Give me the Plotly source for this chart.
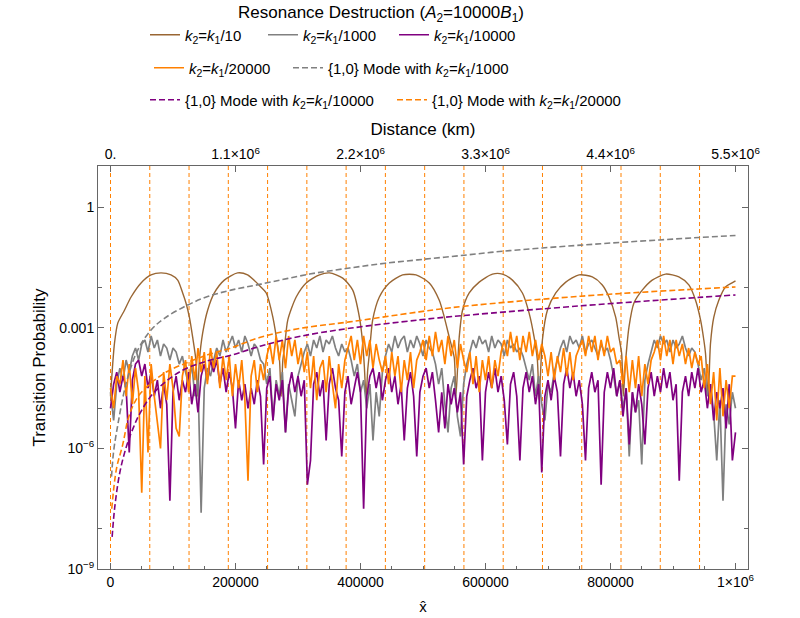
import plotly.graph_objects as go

# ---------------- data ----------------
# x-hat sampling grid for the noisy curves (step 5000)
X_GRID = list(range(0, 1000001, 5000))

# log10 of transition probability, k2 = k1/1000 (gray)
GRAY_LOG = [
    -4.6, -5.3, -4.4, -4.0, -4.3, -3.8, -4.1,
    -3.7, -3.5, -3.8, -3.4, -3.3, -3.6, -3.2, -3.5, -3.3, -3.7, -3.4, -3.5, -3.8, -3.5, -3.6, -3.9,
    -3.7, -4.1, -4.4, -3.9, -4.7, -4.3, -7.6, -4.5, -4.0, -4.2,
    -3.8, -3.5, -3.7, -3.3, -3.6, -3.4, -3.2, -3.5, -3.3, -3.6, -3.2, -3.4, -3.7, -3.4, -3.5, -3.8,
    -3.9, -4.4, -4.0, -5.3, -4.3, -4.7, -4.1, -5.6, -4.4, -4.8, -5.2, -4.2, -3.9,
    -3.6, -3.4, -3.7, -3.3, -3.5, -3.2, -3.6, -3.3, -3.4, -3.2, -3.5, -3.7, -3.4, -3.6, -3.5, -3.8,
    -4.2, -3.9, -4.6, -4.3, -5.0, -4.4, -5.8, -4.6, -5.2, -4.1,
    -3.7, -3.4, -3.6, -3.2, -3.5, -3.3, -3.2, -3.6, -3.3, -3.5, -3.2, -3.4, -3.7, -3.3, -3.5, -3.6,
    -3.9, -4.4, -4.0, -4.9, -5.6, -4.5, -4.2, -5.2, -5.7, -4.4, -3.9,
    -3.6, -3.3, -3.5, -3.2, -3.4, -3.3, -3.6, -3.2, -3.5, -3.3, -3.4, -3.7, -3.3, -3.5, -3.4, -3.6, -3.5, -3.7,
    -4.0, -4.3, -3.9, -4.7, -4.2, -4.9, -5.3, -4.4, -4.6, -4.1, -3.8,
    -3.5, -3.3, -3.6, -3.2, -3.4, -3.3, -3.5, -3.2, -3.6, -3.4, -3.3, -3.5, -3.7, -3.4, -3.6, -3.5,
    -3.8, -4.2, -4.7, -4.3, -5.0, -4.5, -6.2, -4.6, -5.1, -4.8, -6.4, -4.3,
    -3.9, -3.6, -3.3, -3.5, -3.2, -3.4, -3.3, -3.6, -3.3, -3.5, -3.4, -3.2, -3.5, -3.7, -3.5, -3.6,
    -3.9, -4.3, -4.0, -4.7, -4.4, -5.1, -6.3, -4.8, -7.3, -4.9, -5.4, -4.6, -5.0,
]

# log10 of transition probability, k2 = k1/10000 (purple)
PURPLE_LOG = [
    -5.0, -4.4, -4.1, -4.6, -4.2, -4.5, -6.1, -4.3, -3.9, -3.8,
    -4.2, -3.9, -4.5, -4.1, -4.7, -4.3, -5.0, -4.4, -4.9, -7.3,
    -4.6, -4.2, -4.8, -4.3, -4.6, -4.1, -4.9, -4.4, -5.1, -4.2,
    -3.9, -4.3, -3.8, -4.1, -3.8, -4.4, -4.0, -4.6, -4.1, -4.5,
    -5.5, -4.3, -4.8, -4.4, -5.0, -4.5, -4.9, -4.3, -4.7, -6.4,
    -4.5, -4.2, -5.3, -4.4, -4.8, -4.3, -5.6, -4.5, -4.1, -4.6,
    -4.2, -4.7, -4.3, -6.9, -6.3, -4.4, -4.1, -4.7, -4.3, -5.8,
    -4.4, -4.0, -4.5, -4.8, -6.2, -4.6, -4.2, -4.9, -4.5, -4.1,
    -4.6, -7.5, -4.7, -4.2, -4.0, -4.5, -4.1, -4.8, -4.3, -4.0,
    -4.6, -4.2, -4.9, -4.4, -5.8, -4.5, -4.1, -4.7, -6.2, -4.6,
    -4.2, -4.0, -4.5, -4.1, -4.8, -5.6, -4.6, -5.5, -4.4, -4.9,
    -4.5, -5.1, -4.6, -6.4, -4.7, -4.3, -4.0, -4.5, -4.2, -6.3,
    -4.6, -4.1, -4.5, -4.0, -4.6, -4.2, -4.8, -5.9, -4.4, -4.1,
    -4.7, -6.3, -4.5, -4.1, -4.6, -4.2, -4.9, -4.4, -6.6, -4.7,
    -4.3, -4.8, -4.2, -4.6, -6.2, -4.4, -4.0, -4.5, -4.1, -4.7,
    -4.3, -4.9, -6.3, -4.5, -4.1, -4.6, -4.3, -6.9, -4.6, -4.1,
    -4.5, -4.0, -4.7, -4.3, -5.2, -4.5, -5.9, -4.6, -5.1, -4.4,
    -4.9, -5.9, -4.5, -4.1, -4.7, -4.2, -4.6, -4.0, -4.5, -4.1,
    -4.8, -4.4, -6.8, -4.6, -4.2, -4.7, -4.1, -4.5, -4.0, -4.6,
    -4.3, -5.0, -4.4, -5.3, -4.6, -5.0, -4.5, -5.5, -4.4, -6.3,
    -5.6,
]

# log10 of transition probability, k2 = k1/20000 (orange)
ORANGE_LOG = [
    -4.5, -5.0, -4.2, -4.4,
    -3.8, -4.7, -3.9, -4.9, -4.0, -4.6, -7.1, -4.2, -6.1, -3.9, -4.7, -5.4, -6.0, -4.1, -4.8, -3.9, -4.5, -5.5, -5.7, -4.2, -3.8, -4.6,
    -3.7, -4.3, -3.5, -4.1, -3.6, -4.4, -3.5, -4.0, -3.6, -4.5, -3.7,
    -4.3, -3.7, -4.7, -3.9, -4.5, -3.8, -4.8, -6.8, -4.2, -3.8, -4.6, -3.9, -4.3, -3.7,
    -3.4, -3.9, -3.2, -3.8, -3.3, -4.0, -3.2, -3.7, -3.3, -3.9, -3.5,
    -4.1, -3.6, -4.5, -3.7, -4.8, -4.0, -3.8, -4.6, -3.7, -4.4, -5.0, -3.9, -4.5, -3.8,
    -3.5, -3.2, -3.8, -3.3, -3.9, -3.2, -3.7, -3.3, -4.0, -3.4, -3.8, -4.1,
    -3.7, -4.4, -3.6, -4.2, -3.7, -4.6, -3.8, -4.3, -3.6, -4.5, -3.8, -3.6,
    -3.3, -3.8, -3.2, -3.7, -3.1, -3.6, -3.3, -3.9, -3.2, -3.7, -3.3, -4.0, -3.4, -3.8,
    -4.1, -3.6, -4.4, -3.7, -4.6, -3.8, -4.3, -3.7, -4.5, -3.8, -4.2, -3.6,
    -3.3, -3.7, -3.1, -3.6, -3.2, -3.8, -3.2, -3.6, -3.1, -3.7, -3.3, -3.8, -3.4,
    -3.7, -4.2, -3.6, -4.3, -3.7, -4.1, -3.5, -4.2, -3.6, -4.3, -3.7, -3.5,
    -3.3, -3.7, -3.2, -3.6, -3.2, -3.8, -3.3, -3.7, -3.2, -3.6, -3.5, -3.9,
    -3.8, -4.4, -3.7, -4.6, -3.8, -4.5, -3.7, -4.7, -3.9, -4.4, -3.8, -3.6,
    -3.3, -3.8, -3.2, -3.7, -3.3, -3.9, -3.3, -3.7, -3.4, -3.9, -3.5, -4.0, -3.6,
    -3.9, -3.7, -4.5, -3.9, -4.9, -4.1, -5.3, -4.0, -5.2, -4.3, -5.0, -4.2, -4.2,
]

# k2 = k1/10 (brown), arches
BROWN_X = [
    0, 6390, 11660, 22360, 32910, 48880, 64850, 80830, 96800, 107500,
    115490, 120760, 126190, 131460, 136740, 139450, 142170, 147440, 155430, 166130,
    182100, 203350, 219320, 240570, 249190, 259740, 267720, 270440, 273160, 275710,
    278430, 283700, 297120, 313090, 334330, 350310, 371550, 387530, 398230, 403500,
    406220, 408930, 411490, 414200, 419480, 430180, 446150, 467400, 488800, 510050,
    526030, 534010, 542000, 549990, 552700, 557970, 563240, 573940, 589920, 611160,
    627140, 643110, 659090, 669790, 677780, 683050, 685770, 691040, 699030, 712450,
    728410, 749660, 770900, 786880, 797580, 808280, 813550, 817860, 820420, 824250,
    829530, 837510, 850770, 866750, 888150, 909400, 925370, 936070, 944060, 949330,
    952050, 956200, 960030, 965310, 973300, 983990, 994540, 1000000,
]
BROWN_LOG = [
    -4.70, -3.38, -2.88, -2.56, -2.23, -1.88, -1.68, -1.63, -1.68, -1.81,
    -2.13, -2.38, -2.73, -3.23, -3.81, -4.70, -3.81, -3.13, -2.56, -2.13,
    -1.81, -1.63, -1.68, -1.98, -2.13, -2.73, -3.48, -3.81, -4.70, -3.81,
    -3.48, -2.80, -2.23, -1.88, -1.68, -1.63, -1.76, -2.06, -2.73, -3.38,
    -3.98, -4.75, -4.06, -3.64, -2.80, -2.23, -1.88, -1.68, -1.68, -1.88,
    -2.31, -2.73, -3.23, -3.74, -4.70, -3.23, -2.56, -2.13, -1.86, -1.66,
    -1.66, -1.81, -2.13, -2.63, -3.23, -3.81, -4.78, -3.30, -2.56, -2.13,
    -1.86, -1.68, -1.73, -1.93, -2.23, -2.73, -3.23, -3.64, -4.70, -3.81,
    -2.98, -2.38, -2.06, -1.81, -1.66, -1.73, -1.93, -2.31, -2.80, -3.30,
    -3.64, -4.70, -3.38, -2.73, -2.31, -1.98, -1.88, -1.83,
]

# {1,0} mode curves (dashed)
MODE1000_X = [1600, 4800, 9600, 25560, 43600, 64900, 86300, 123500, 155400, 192700,
              240600, 318400, 382300, 439800, 502100, 566000, 628300, 690600, 752900,
              816800, 879100, 941400, 1000000]
MODE1000_LOG = [-6.7, -6.1, -5.6, -4.35, -3.55, -3.05, -2.76, -2.43, -2.22, -2.06,
                -1.91, -1.66, -1.51, -1.39, -1.29, -1.19, -1.09, -1.01, -0.94,
                -0.87, -0.81, -0.75, -0.70]

MODE10000_X = [2600, 6900, 14900, 25500, 36100, 48000, 70000, 112000, 155400, 192700,
               240600, 300000, 382300, 494000, 566000, 752900, 941400, 1000000]
MODE10000_LOG = [-8.2, -7.45, -6.6, -5.95, -5.5, -5.1, -4.6, -4.08, -3.82, -3.68,
                 -3.45, -3.22, -3.01, -2.80, -2.69, -2.45, -2.24, -2.18]

MODE20000_X = [2000, 9600, 19650, 27600, 35600, 48400, 86700, 121900, 155400, 192200,
               238500, 300000, 382300, 494000, 566000, 752900, 941400, 1000000]
MODE20000_LOG = [-7.5, -6.5, -5.9, -5.3, -4.95, -4.62, -4.12, -3.87, -3.67, -3.50,
                 -3.24, -3.02, -2.85, -2.60, -2.46, -2.21, -2.03, -1.98]

# resonance positions (vertical dashed lines), multiples of 2*pi*10^4
RESONANCE_X = [0, 62832, 125664, 188496, 251327, 314159, 376991, 439823,
               502655, 565487, 628319, 691150, 753982, 816814, 879646, 942478]

# ticks
X_TICKS = [0, 200000, 400000, 600000, 800000, 1000000]
X_TICK_TEXT = ["0", "200000", "400000", "600000", "800000", "1×10<sup>6</sup>"]
KM_TICKS = [0, 1.1e6, 2.2e6, 3.3e6, 4.4e6, 5.5e6]
KM_TICK_TEXT = ["0.", "1.1×10<sup>6</sup>", "2.2×10<sup>6</sup>", "3.3×10<sup>6</sup>",
                "4.4×10<sup>6</sup>", "5.5×10<sup>6</sup>"]
KM_PER_XHAT = 5.5
Y_TICKS = [1, 1e-3, 1e-6, 1e-9]
Y_TICK_TEXT = ["1", "0.001", "10<sup>−6</sup>", "10<sup>−9</sup>"]
Y_MINOR = [1e-2, 1e-5, 1e-8]

LABELS = [
    "<i>k</i><sub>2</sub>=<i>k</i><sub>1</sub>/10",
    "<i>k</i><sub>2</sub>=<i>k</i><sub>1</sub>/1000",
    "<i>k</i><sub>2</sub>=<i>k</i><sub>1</sub>/10000",
    "<i>k</i><sub>2</sub>=<i>k</i><sub>1</sub>/20000",
    "{1,0} Mode with <i>k</i><sub>2</sub>=<i>k</i><sub>1</sub>/1000",
    "{1,0} Mode with <i>k</i><sub>2</sub>=<i>k</i><sub>1</sub>/10000",
    "{1,0} Mode with <i>k</i><sub>2</sub>=<i>k</i><sub>1</sub>/20000",
]

# ---------------- figure ----------------
BROWN = "#996633"
GRAY = "#808080"
PURPLE = "#800080"
ORANGE = "#FF8000"
FONT = "Liberation Sans, Arial, sans-serif"
AXC = "#666666"


def p(logs):
    return [10 ** v for v in logs]


fig = go.Figure()
fig.add_trace(go.Scatter(x=BROWN_X, y=p(BROWN_LOG), mode="lines", name=LABELS[0],
                         line=dict(color=BROWN, width=1.4, shape="spline", smoothing=0.7),
                         legend="legend"))
fig.add_trace(go.Scatter(x=X_GRID, y=p(GRAY_LOG), mode="lines", name=LABELS[1],
                         line=dict(color=GRAY, width=1.7), legend="legend2"))
fig.add_trace(go.Scatter(x=X_GRID, y=p(PURPLE_LOG), mode="lines", name=LABELS[2],
                         line=dict(color=PURPLE, width=1.7), legend="legend3"))
fig.add_trace(go.Scatter(x=X_GRID, y=p(ORANGE_LOG), mode="lines", name=LABELS[3],
                         line=dict(color=ORANGE, width=1.7), legend="legend4"))
fig.add_trace(go.Scatter(x=MODE1000_X, y=p(MODE1000_LOG), mode="lines", name=LABELS[4],
                         line=dict(color=GRAY, width=1.6, dash="6px,3px", shape="spline"),
                         legend="legend5"))
fig.add_trace(go.Scatter(x=MODE10000_X, y=p(MODE10000_LOG), mode="lines", name=LABELS[5],
                         line=dict(color=PURPLE, width=1.6, dash="6px,3px", shape="spline"),
                         legend="legend6"))
fig.add_trace(go.Scatter(x=MODE20000_X, y=p(MODE20000_LOG), mode="lines", name=LABELS[6],
                         line=dict(color=ORANGE, width=1.6, dash="6px,3px", shape="spline"),
                         legend="legend7"))
# empty trace that attaches the top (km) axis
fig.add_trace(go.Scatter(x=[], y=[], xaxis="x2", showlegend=False, hoverinfo="skip"))

for xv in RESONANCE_X:
    fig.add_shape(type="line", x0=xv, x1=xv, y0=0, y1=1, xref="x", yref="paper",
                  line=dict(color=ORANGE, width=1, dash="4px,3px"), layer="below")

XR = [-20000, 1020000]

# legend placement (container px: left of legend box, row centre)
leg_pos = {
    "legend": (145, 35), "legend2": (263, 35), "legend3": (394, 35),
    "legend4": (149, 68), "legend5": (288, 68),
    "legend6": (145, 100), "legend7": (392, 100),
}
legend_layouts = {}
for k, (lx, ly) in leg_pos.items():
    legend_layouts[k] = dict(x=lx / 800, y=1 - ly / 618, xref="container", yref="container",
                             xanchor="left", yanchor="middle", orientation="h",
                             bgcolor="rgba(0,0,0,0)", font=dict(family=FONT, size=15, color="black"))

fig.update_layout(
    width=800, height=618,
    margin=dict(l=98, r=52, t=166, b=49, autoexpand=False),
    paper_bgcolor="white", plot_bgcolor="white",
    font=dict(family=FONT, size=14, color="black"),
    title=dict(text="Resonance Destruction (<i>A</i><sub>2</sub>=10000<i>B</i><sub>1</sub>)",
               x=381 / 800, xref="container", y=1 - 12 / 618, yref="container",
               xanchor="center", yanchor="middle", font=dict(size=17, family=FONT)),
    showlegend=True,
    xaxis=dict(range=XR, showline=True, linecolor=AXC, linewidth=1, mirror=False,
               ticks="inside", ticklen=6, tickcolor=AXC, tickvals=X_TICKS, ticktext=X_TICK_TEXT,
               minor=dict(dtick=50000, tick0=0, ticks="inside", ticklen=3, tickcolor=AXC),
               showgrid=False, zeroline=False, automargin=False,
               title=dict(text="x̂", standoff=12, font=dict(size=15))),
    xaxis2=dict(range=[XR[0] * KM_PER_XHAT, XR[1] * KM_PER_XHAT], overlaying="x", side="top",
                showline=True, linecolor=AXC, linewidth=1, ticks="inside", ticklen=6,
                tickcolor=AXC, tickvals=KM_TICKS, ticktext=KM_TICK_TEXT, showgrid=False,
                zeroline=False, automargin=False, title=dict(text="Distance (km)", standoff=4)),
    yaxis=dict(type="log", range=[-9, 1.03], showline=True, linecolor=AXC, linewidth=1,
               mirror="ticks", ticks="inside", ticklen=6, tickcolor=AXC,
               tickvals=Y_TICKS, ticktext=Y_TICK_TEXT,
               minor=dict(tickmode="array", tickvals=Y_MINOR, ticks="inside", ticklen=4,
                          tickcolor=AXC),
               showgrid=False, zeroline=False, automargin=False,
               title=dict(text="Transition Probability", standoff=9)),
    **legend_layouts,
)

fig.write_html("out.html")
